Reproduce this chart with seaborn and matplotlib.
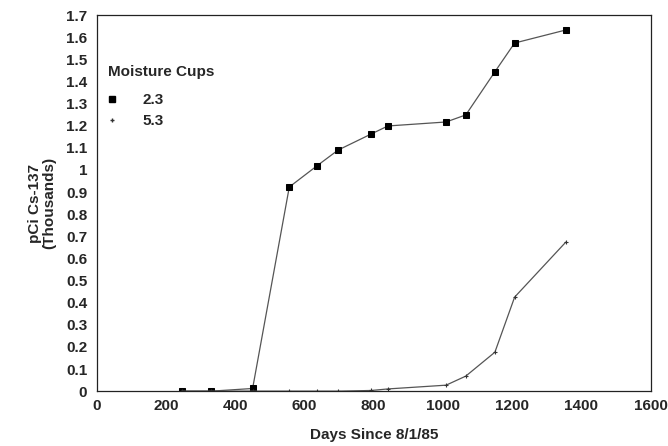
import matplotlib
matplotlib.use("Agg")
import matplotlib.pyplot as plt
import seaborn as sns
import pandas as pd
from matplotlib.lines import Line2D
from matplotlib.ticker import MultipleLocator

days = [245, 331, 450, 556, 637, 697, 793, 841, 1009, 1066, 1150, 1207, 1355]
cups_23 = [0.0, 0.0, 0.012, 0.923, 1.02, 1.09, 1.163, 1.199, 1.217, 1.249, 1.444, 1.574, 1.633]
cups_53 = [0.0, 0.0, 0.0, 0.0, 0.0, 0.0, 0.003, 0.01, 0.027, 0.068, 0.176, 0.425, 0.674]
series_names = ["2.3", "5.3"]
yticks = [0, 0.1, 0.2, 0.3, 0.4, 0.5, 0.6, 0.7, 0.8, 0.9, 1, 1.1, 1.2, 1.3, 1.4, 1.5, 1.6, 1.7]
ytick_labels = ["0", "0.1", "0.2", "0.3", "0.4", "0.5", "0.6", "0.7", "0.8", "0.9", "1",
                "1.1", "1.2", "1.3", "1.4", "1.5", "1.6", "1.7"]
xticks = [0, 200, 400, 600, 800, 1000, 1200, 1400, 1600]

df = pd.DataFrame({
    "days": days * 2,
    "value": cups_23 + cups_53,
    "series": [series_names[0]] * len(days) + [series_names[1]] * len(days),
})

sns.set_style("white")
plt.rcParams["font.family"] = ["Liberation Sans", "DejaVu Sans"]
plt.rcParams["font.weight"] = "bold"

FS = 11
fig = plt.figure(figsize=(6.68, 4.46), dpi=100)
ax = fig.add_axes([0.145, 0.123, 0.829, 0.843])

d23 = df[df.series == "2.3"]
d53 = df[df.series == "5.3"]
sns.lineplot(data=d23, x="days", y="value", ax=ax, color="#555555", linewidth=0.9,
             marker="s", markersize=4.3, markerfacecolor="black", markeredgecolor="black",
             legend=False)
sns.lineplot(data=d53, x="days", y="value", ax=ax, color="#555555", linewidth=0.9,
             marker="+", markersize=3.0, markeredgecolor="#333333", markeredgewidth=0.8,
             legend=False)

ax.set_xlim(0, 1600)
ax.set_ylim(0, 1.7)
ax.set_xticks(xticks)
ax.set_xticklabels([str(t) for t in xticks], fontsize=FS, fontweight="bold")
ax.xaxis.set_minor_locator(MultipleLocator(100))
ax.set_yticks(yticks)
ax.set_yticklabels(ytick_labels, fontsize=FS, fontweight="bold")
ax.tick_params(axis="x", which="both", direction="inout", length=5, width=0.8, color="#333333")
ax.tick_params(axis="y", which="major", direction="out", length=4, width=0.8, color="#333333")
ax.tick_params(axis="x", which="minor", length=3)
ax.tick_params(axis="x", pad=3)
ax.tick_params(axis="y", pad=3)

for s in ax.spines.values():
    s.set_visible(True)
    s.set_color("#222222")
    s.set_linewidth(0.9)

ax.set_xlabel("Days Since 8/1/85", fontsize=FS, fontweight="bold", labelpad=11)
ax.set_ylabel("pCi Cs-137\n(Thousands)", fontsize=FS, fontweight="bold", labelpad=7,
              linespacing=1.0)

handles = [
    Line2D([], [], linestyle="none", marker="s", markersize=3.8, color="black"),
    Line2D([], [], linestyle="none", marker="+", markersize=3.0, color="#333333"),
]
leg = ax.legend(handles, series_names, title="Moisture Cups", loc="upper left",
                bbox_to_anchor=(0.0, 0.895), frameon=False, fontsize=FS,
                title_fontproperties={"weight": "bold", "size": FS},
                handlelength=0.6, handletextpad=1.7, labelspacing=0.45,
                alignment="left", borderaxespad=0.3)
leg._legend_box.sep = 10

fig.savefig("out.png", dpi=100)
